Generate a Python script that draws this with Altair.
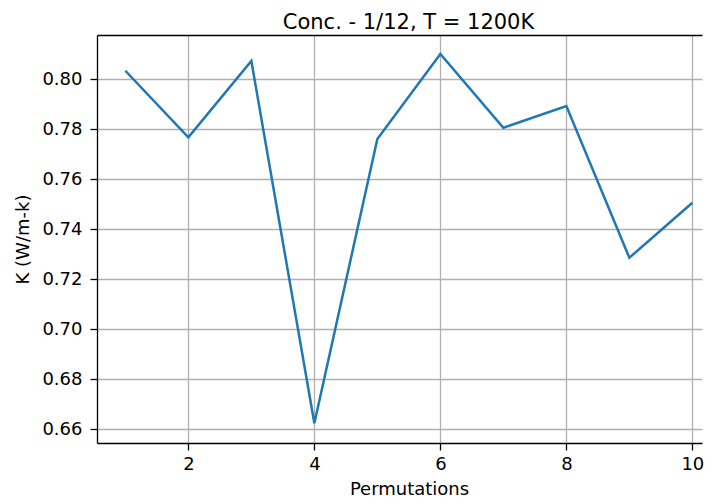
import altair as alt
import pandas as pd

permutations = [1, 2, 3, 4, 5, 6, 7, 8, 9, 10]
k_values = [0.8034, 0.7768, 0.8073, 0.6624, 0.7761, 0.8101, 0.7806, 0.7893, 0.7286, 0.7506]
x_ticks = [2, 4, 6, 8, 10]
y_ticks = [0.66, 0.68, 0.70, 0.72, 0.74, 0.76, 0.78, 0.80]

df = pd.DataFrame({"perm": permutations, "k": k_values})

FONT = "DejaVu Sans"
x_scale = alt.Scale(domain=[0.55, 10.153], nice=False, zero=False)
y_scale = alt.Scale(domain=[0.6545, 0.8177], nice=False, zero=False)

line = alt.Chart(df).mark_line(color="#1f77b4", strokeWidth=2.5, clip=True).encode(
    x=alt.X("perm:Q", scale=x_scale,
            axis=alt.Axis(values=x_ticks, format="d", title="Permutations",
                          orient="bottom", labelPadding=5, titlePadding=7,
                          titleX=312)),
    y=alt.Y("k:Q", scale=y_scale,
            axis=alt.Axis(values=y_ticks, format=".2f", title="K (W/m-k)",
                          orient="left", labelPadding=8, titlePadding=9)),
)

top = alt.Chart(df).mark_line(opacity=0).encode(
    x=alt.X("perm:Q", scale=x_scale,
            axis=alt.Axis(orient="top", labels=False, ticks=False, grid=False,
                          domain=True, title=None)),
    y=alt.Y("k:Q", scale=y_scale, axis=None),
)

chart = alt.layer(line, top).resolve_axis(x="independent", y="independent").properties(
    width=605, height=408,
    title=alt.TitleParams("Conc. - 1/12, T = 1200K", font=FONT, fontSize=21,
                          fontWeight="normal", color="black", offset=2,
                          anchor="middle", dx=9),
    autosize=alt.AutoSizeParams(type="none"),
    padding={"left": 89, "top": 27, "right": 2, "bottom": 61},
).configure_view(stroke=None).configure_axis(
    labelFont=FONT, titleFont=FONT, labelFontSize=18, titleFontSize=18,
    titleFontWeight="normal", labelColor="black", titleColor="black",
    domainColor="black", domainWidth=1.3, tickColor="black", tickWidth=1.3,
    tickSize=7, gridColor="#b0b0b0", gridWidth=1.3, grid=True,
)

chart.save("out.html", embed_options={"renderer": "svg", "actions": False})
